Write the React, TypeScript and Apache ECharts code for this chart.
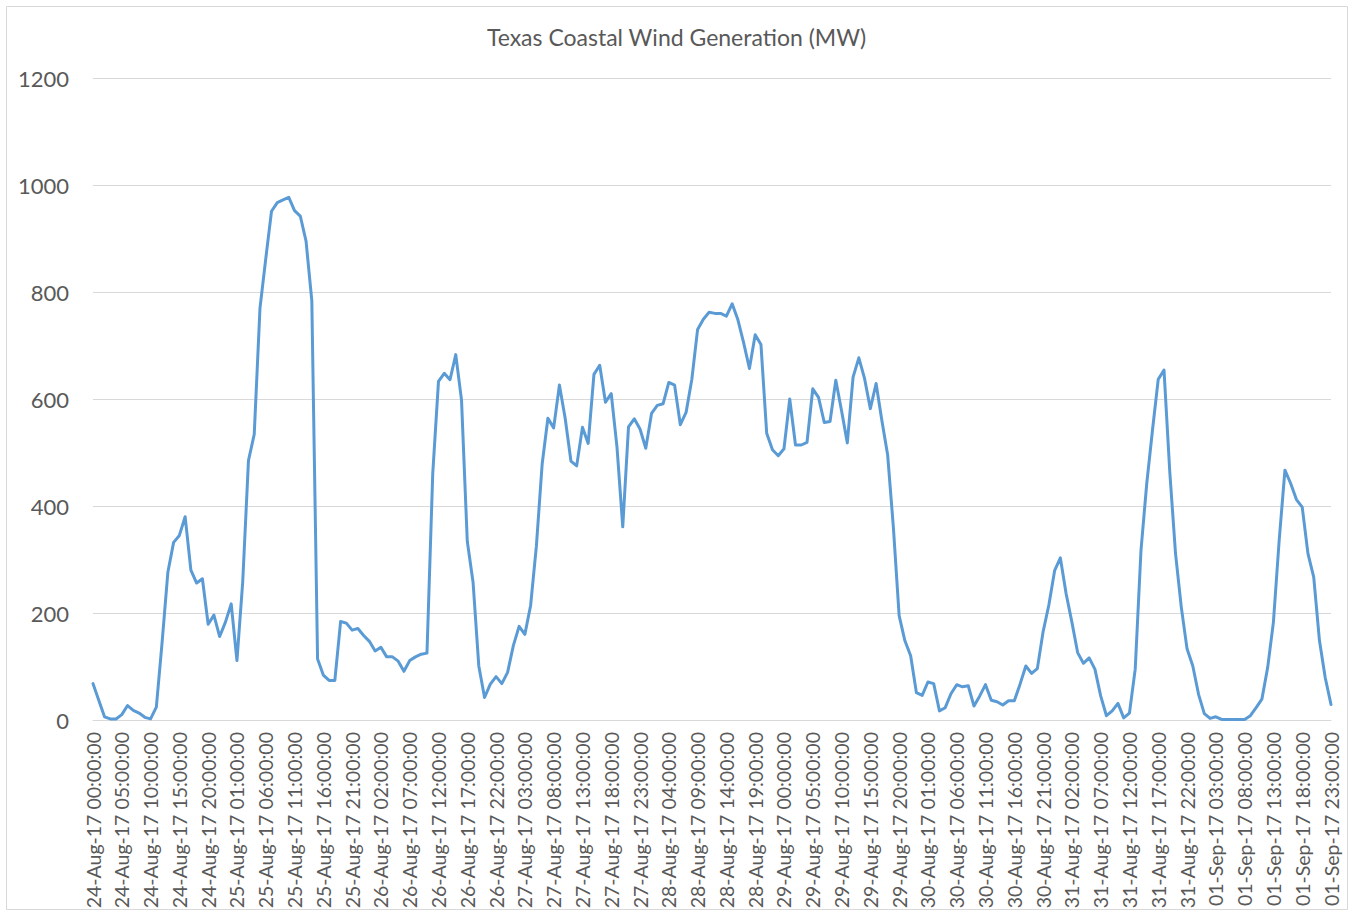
import React, { useEffect, useRef } from "react";
import * as echarts from "echarts";

// Hourly coastal wind output (MW), one array per day
const aug24 = [68, 37, 6, 2, 2, 10, 27, 18, 13, 5, 2, 24, 145, 276, 332, 345, 380, 280, 256, 264, 179, 196, 156, 183];
const aug25 = [217, 111, 258, 485, 534, 770, 862, 951, 967, 972, 977, 952, 942, 895, 784, 114, 84, 74, 74, 184, 181, 168, 171, 158];
const aug26 = [147, 129, 136, 118, 118, 110, 91, 111, 118, 123, 125, 460, 633, 648, 636, 683, 598, 334, 258, 101, 42, 67, 81, 68];
const aug27 = [89, 139, 175, 160, 214, 325, 478, 564, 546, 626, 564, 484, 475, 547, 517, 646, 663, 594, 610, 510, 361, 548, 563, 544];
const aug28 = [508, 573, 588, 591, 631, 626, 552, 575, 637, 730, 749, 762, 760, 760, 755, 778, 748, 705, 657, 720, 702, 536, 505, 494];
const aug29 = [507, 600, 514, 514, 519, 619, 603, 556, 558, 635, 578, 518, 641, 677, 638, 582, 629, 560, 496, 360, 195, 148, 120, 51];
const aug30 = [46, 71, 68, 17, 23, 49, 66, 62, 64, 26, 45, 66, 37, 34, 28, 36, 36, 67, 101, 87, 96, 165, 215, 279];
const aug31 = [303, 236, 183, 126, 106, 116, 95, 45, 8, 17, 31, 4, 13, 95, 317, 442, 542, 637, 654, 464, 311, 211, 133, 101];
const sep01 = [48, 12, 3, 6, 1, 1, 1, 1, 1, 8, 23, 39, 98, 183, 336, 467, 442, 412, 398, 311, 267, 148, 79, 29];

const days = ["24-Aug-17", "25-Aug-17", "26-Aug-17", "27-Aug-17", "28-Aug-17", "29-Aug-17", "30-Aug-17", "31-Aug-17", "01-Sep-17"];
const hours = [
  "00:00:00", "01:00:00", "02:00:00", "03:00:00", "04:00:00", "05:00:00",
  "06:00:00", "07:00:00", "08:00:00", "09:00:00", "10:00:00", "11:00:00",
  "12:00:00", "13:00:00", "14:00:00", "15:00:00", "16:00:00", "17:00:00",
  "18:00:00", "19:00:00", "20:00:00", "21:00:00", "22:00:00", "23:00:00",
];

const dailySeries = [aug24, aug25, aug26, aug27, aug28, aug29, aug30, aug31, sep01];

const titleText = "Texas Coastal Wind Generation (MW)";

export default function App() {
  const ref = useRef<HTMLDivElement>(null);

  useEffect(() => {
    if (!ref.current) return;
    const chart = echarts.init(ref.current, null, { renderer: "svg" });

    const categories: string[] = [];
    days.forEach((d) => hours.forEach((h) => categories.push(`${d} ${h}`)));
    const values: number[] = ([] as number[]).concat(...dailySeries);

    const font = "Lato, 'Open Sans', sans-serif";

    chart.setOption({
      animation: false,
      backgroundColor: "#ffffff",
      title: {
        text: titleText,
        left: "center",
        top: 20,
        textStyle: {
          fontFamily: font,
          fontSize: 23,
          fontWeight: "normal",
          color: "#595959",
        },
      },
      graphic: [
        {
          type: "rect",
          shape: { x: 6.5, y: 6.5, width: 1341, height: 903 },
          style: { fill: "none", stroke: "#d9d9d9", lineWidth: 1 },
          silent: true,
        },
      ],
      grid: { left: 93, right: 22, top: 78, bottom: 193, containLabel: false },
      xAxis: {
        type: "category",
        data: categories,
        boundaryGap: false,
        axisLine: { show: true, lineStyle: { color: "#d9d9d9", width: 1 } },
        axisTick: { show: false },
        axisLabel: {
          interval: 4,
          rotate: 90,
          margin: 12,
          fontFamily: font,
          fontSize: 19.5,
          color: "#595959",
        },
        splitLine: { show: false },
      },
      yAxis: {
        type: "value",
        min: 0,
        max: 1200,
        interval: 200,
        axisLine: { show: false },
        axisTick: { show: false },
        axisLabel: {
          margin: 24,
          fontFamily: font,
          fontSize: 22,
          color: "#595959",
          formatter: (v: number) => String(v),
        },
        splitLine: { lineStyle: { color: "#d9d9d9", width: 1 } },
      },
      series: [
        {
          type: "line",
          data: values,
          symbol: "none",
          lineStyle: { color: "#5b9bd5", width: 3, join: "round", cap: "round" },
          itemStyle: { color: "#5b9bd5" },
        },
      ],
    });

    return () => chart.dispose();
  }, []);

  return (
    <div
      ref={ref}
      style={{ position: "absolute", left: 0, top: 0, width: 1353, height: 913 }}
    />
  );
}
